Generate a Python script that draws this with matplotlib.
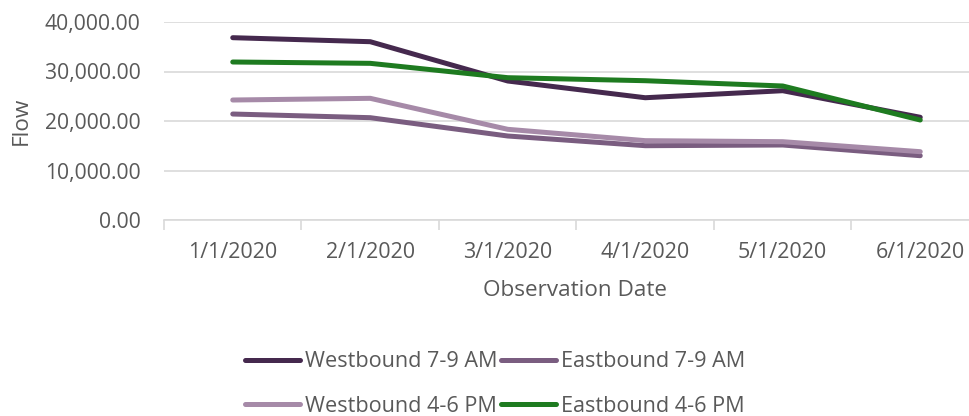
import numpy as np
import matplotlib.pyplot as plt
from matplotlib.ticker import FuncFormatter

dates = ['1/1/2020', '2/1/2020', '3/1/2020', '4/1/2020', '5/1/2020', '6/1/2020']
wb_am = [36830, 36020, 28080, 24700, 26120, 20750]
eb_am = [21410, 20670, 16970, 15010, 15150, 12990]
wb_pm = [24240, 24580, 18320, 16030, 15820, 13800]
eb_pm = [31920, 31650, 28750, 28140, 27070, 20200]

plt.rcParams['font.family'] = ['Open Sans', 'DejaVu Sans']
txt = '#595959'
grid = '#d9d9d9'

fig = plt.figure(figsize=(9.7, 4.16), dpi=100)
ax = fig.add_axes([164 / 970, (416 - 220) / 416, 825 / 970, 198 / 416])

x = np.arange(len(dates))
lines = {}
lines['wb_am'], = ax.plot(x, wb_am, color='#45294e', lw=3.6, solid_capstyle='round', label='Westbound 7-9 AM')
lines['eb_am'], = ax.plot(x, eb_am, color='#7a5d80', lw=3.6, solid_capstyle='round', label='Eastbound 7-9 AM')
lines['wb_pm'], = ax.plot(x, wb_pm, color='#a68aa8', lw=3.6, solid_capstyle='round', label='Westbound 4-6 PM')
lines['eb_pm'], = ax.plot(x, eb_pm, color='#1e7b20', lw=3.6, solid_capstyle='round', label='Eastbound 4-6 PM')

ax.set_xlim(-0.5, 5.5)
ax.set_ylim(0, 40000)
ax.set_yticks([0, 10000, 20000, 30000, 40000])
ax.yaxis.set_major_formatter(FuncFormatter(lambda v, p: f'{v:,.2f}'))
ax.grid(axis='y', color=grid, lw=1.2)
ax.set_axisbelow(True)
for s in ['top', 'right', 'left']:
    ax.spines[s].set_visible(False)
ax.spines['bottom'].set_color(grid)
ax.spines['bottom'].set_linewidth(1.2)

ax.set_xticks(x)
ax.set_xticklabels(dates)
ax.set_xticks(np.arange(-0.5, 6, 1), minor=True)
ax.tick_params(axis='x', which='major', length=0, pad=16, labelsize=15.5, labelcolor=txt)
ax.tick_params(axis='x', which='minor', length=7, color=grid, width=1.2)
ax.tick_params(axis='y', length=0, pad=17, labelsize=15.2, labelcolor=txt)

ax.set_xlabel('Observation Date', fontsize=16.2, color=txt, va='center', ha='center')
ax.xaxis.set_label_coords((575 - 164) / 825, (416 - 291 - 196) / 198)
ax.set_ylabel('Flow', fontsize=16.2, color=txt, va='center', ha='center')
ax.yaxis.set_label_coords((21 - 164) / 825, 0.5)

order = ['wb_am', 'wb_pm', 'eb_am', 'eb_pm']
leg = fig.legend([lines[k] for k in order], [lines[k].get_label() for k in order],
                 loc='center', bbox_to_anchor=(495 / 970, (416 - 384) / 416), ncol=2,
                 frameon=False, fontsize=15.6, handlelength=2.55, handletextpad=0.23,
                 columnspacing=0.15, labelspacing=1.1, labelcolor=txt,
                 borderaxespad=0, borderpad=0)

fig.savefig('out.png', dpi=100)
